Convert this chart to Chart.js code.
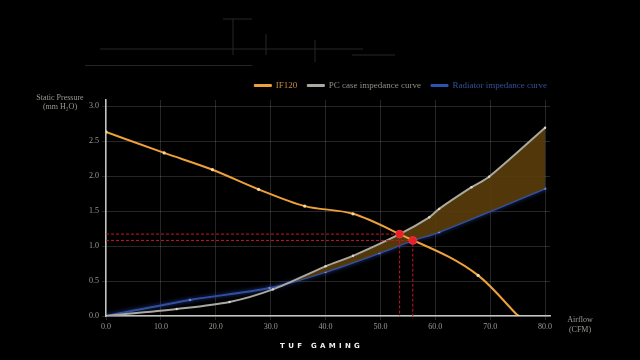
<!DOCTYPE html>
<html>
<head>
<meta charset="utf-8">
<script src="https://cdn.jsdelivr.net/npm/chart.js@4.4.1/dist/chart.umd.min.js"></script>
<style>
  html, body { margin: 0; padding: 0; background: #000; }
  #wrap { width: 640px; height: 360px; position: relative; }
</style>
</head>
<body>
<div id="wrap"><canvas id="c" width="640" height="360"></canvas></div>
<script>
// ---- data ----
const seriesNames = ['IF120', 'PC case impedance curve', 'Radiator impedance curve'];
const fanX = [0, 10.6, 19.4, 27.8, 36.2, 45, 53.5, 67.8, 75.1];
const fanY = [2.63, 2.33, 2.09, 1.81, 1.57, 1.46, 1.17, 0.58, 0];
const pcX = [0, 12.9, 22.5, 30.4, 40, 45, 53.5, 58.9, 60.7, 66.6, 69.8, 80];
const pcY = [0, 0.1, 0.2, 0.38, 0.71, 0.86, 1.17, 1.41, 1.53, 1.84, 1.99, 2.69];
const radX = [0, 15.3, 29.8, 40, 49.8, 55.9, 60.7, 80];
const radY = [0, 0.23, 0.4, 0.63, 0.9, 1.08, 1.2, 1.82];
const opX = [53.5, 55.9];
const opY = [1.17, 1.08];
const xTicks = [0, 10, 20, 30, 40, 50, 60, 70, 80];
const yTicks = [0, 0.5, 1.0, 1.5, 2.0, 2.5, 3.0];
const yTitle = ['Static Pressure', '(mm H\u2082O)'];
const xTitle = ['Airflow', '(CFM)'];
const brand = 'TUF GAMING';

const zip = (xs, ys) => xs.map((x, i) => ({ x: x, y: ys[i] }));

const ORANGE = '#eea13a', GREY = '#a9a99f', BLUE = '#2f52ae', RED = '#c4162a';
const legendText = ['#c98a3a', '#8e8e86', '#34509a'];

const datasets = [
  { label: seriesNames[0], data: zip(fanX, fanY), borderColor: ORANGE, backgroundColor: ORANGE,
    borderWidth: 2, pointRadius: 1.6, pointBackgroundColor: '#f6d9a0', pointBorderWidth: 0,
    cubicInterpolationMode: 'monotone', tension: 0.4, fill: false, order: 1 },
  { label: seriesNames[1], data: zip(pcX, pcY), borderColor: GREY, backgroundColor: GREY,
    borderWidth: 2, pointRadius: 1.2, pointBackgroundColor: '#d8d8d0', pointBorderWidth: 0,
    tension: 0.3, order: 4,
    fill: { target: 2, above: 'rgba(88,60,10,0.92)', below: 'rgba(0,0,0,0)' } },
  { label: seriesNames[2], data: zip(radX, radY), borderColor: BLUE, backgroundColor: BLUE,
    borderWidth: 2, pointRadius: 1.2, pointBackgroundColor: '#6f8fe0', pointBorderWidth: 0,
    tension: 0.3, fill: false, order: 5 },
];
opX.forEach((x, i) => {
  datasets.push({ label: 'op' + i, data: [{ x: 0, y: opY[i] }, { x: x, y: opY[i] }, { x: x, y: 0 }],
    borderColor: RED, borderWidth: 1, borderDash: [3, 2], pointRadius: 0, tension: 0, fill: false, order: 3 });
});
datasets.push({ label: 'points', data: zip(opX, opY), showLine: false, pointRadius: 4,
  pointBackgroundColor: '#e8202a', pointBorderColor: '#ff4040', pointBorderWidth: 0.5, order: 0 });

const deco = {
  id: 'deco',
  afterLayout(chart) {
    if (chart.legend) { chart.legend.left += 7; chart.legend.right += 7; }
  },
  beforeDraw(chart) {
    const ctx = chart.ctx;
    ctx.save();
    ctx.fillStyle = '#000';
    ctx.fillRect(0, 0, chart.width, chart.height);
    // faint decorative strokes at the top of the slide
    ctx.strokeStyle = '#262626';
    ctx.lineWidth = 1;
    const segs = [[100,49,363,49],[85,65.5,252,65.5],[352,55,395,55],[233,19,233,55],[223,19,252,19],[266,34,266,55],[315,40,315,62]];
    segs.forEach(s => { ctx.beginPath(); ctx.moveTo(s[0], s[1]); ctx.lineTo(s[2], s[3]); ctx.stroke(); });
    ctx.restore();
  },
  beforeDatasetDraw(chart, args) {
    if (args.index === 2) {
      const ctx = chart.ctx; ctx.save();
      ctx.shadowColor = 'rgba(70,110,255,0.6)'; ctx.shadowBlur = 4;
    }
  },
  afterDatasetDraw(chart, args) {
    if (args.index === 2) chart.ctx.restore();
  },
  afterDraw(chart) {
    const ctx = chart.ctx;
    ctx.save();
    ctx.font = '8px "Liberation Serif"';
    ctx.fillStyle = '#9a9a94';
    ctx.textAlign = 'center';
    ctx.textBaseline = 'middle';
    ctx.fillText(yTitle[0], 60, 98);
    ctx.fillText(yTitle[1], 60, 107);
    ctx.fillText(xTitle[0], 580, 320);
    ctx.fillText(xTitle[1], 580, 330);
    ctx.font = 'bold 7px "DejaVu Sans"';
    ctx.fillStyle = '#f0f0f0';
    ctx.letterSpacing = '3.3px';
    ctx.fillText(brand, 321.6, 346);
    ctx.restore();
  }
};

new Chart(document.getElementById('c'), {
  type: 'line',
  data: { datasets: datasets },
  plugins: [deco],
  options: {
    responsive: false,
    animation: false,
    layout: { padding: { left: 0, right: 90, top: 71, bottom: 0 } },
    plugins: {
      tooltip: { enabled: false },
      legend: {
        position: 'top', align: 'end',
        labels: {
          font: { family: '"Liberation Serif"', size: 9 },
          boxWidth: 17, boxHeight: 2, padding: 10,
          filter: (item) => item.datasetIndex < 3,
          generateLabels(chart) {
            const items = Chart.defaults.plugins.legend.labels.generateLabels(chart);
            items.forEach(it => { it.fontColor = legendText[it.datasetIndex] || '#888'; it.lineWidth = 1; });
            return items;
          }
        }
      }
    },
    scales: {
      x: {
        type: 'linear', min: 0, max: 80.9,
        afterFit(s) { s.height = 44; },
        afterBuildTicks(s) { s.ticks = xTicks.map(v => ({ value: v })); },
        ticks: { callback: v => v.toFixed(1), color: '#9a9a94', font: { family: '"Liberation Serif"', size: 8 }, padding: 2, maxRotation: 0 },
        grid: { color: 'rgba(255,255,255,0.15)', tickLength: 4, lineWidth: 1 },
        border: { color: '#c4c4c0', width: 1.5 }
      },
      y: {
        type: 'linear', min: 0, max: 3.086,
        afterFit(s) { s.width = 106; },
        afterBuildTicks(s) { s.ticks = yTicks.map(v => ({ value: v })); },
        ticks: { callback: v => v.toFixed(1), color: '#9a9a94', font: { family: '"Liberation Serif"', size: 8 }, padding: 3 },
        grid: { color: 'rgba(255,255,255,0.15)', tickLength: 4, lineWidth: 1 },
        border: { color: '#c4c4c0', width: 1.5 }
      }
    }
  }
});
</script>
</body>
</html>
